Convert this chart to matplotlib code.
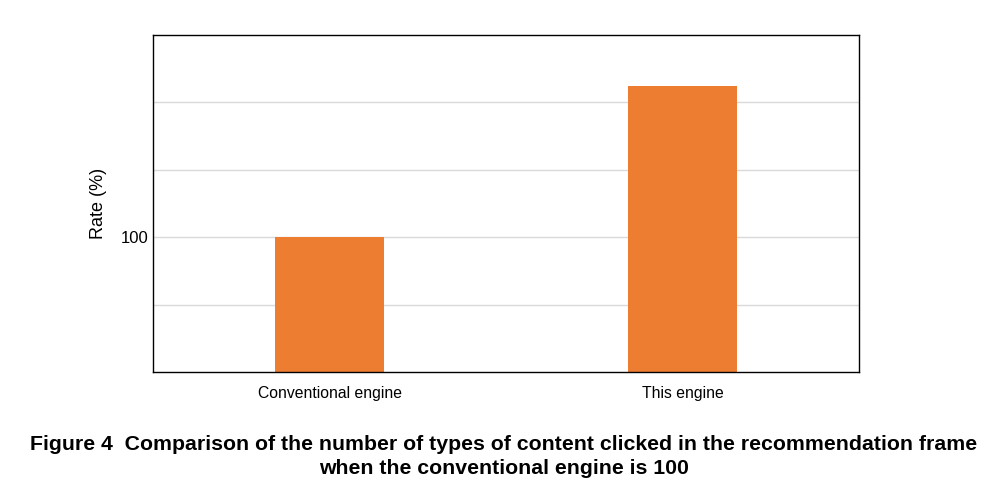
import matplotlib.pyplot as plt

plt.rcParams['font.family'] = ['Liberation Sans', 'DejaVu Sans']

engines = ['Conventional engine', 'This engine']
rates = [100, 156]
grid_levels = [75, 100, 125, 150]
y_ticks = [100]

fig = plt.figure(figsize=(10.08, 5.0), dpi=100)
ax = fig.add_axes([153 / 1008, 1 - 372 / 500, 706 / 1008, 337 / 500])

ax.bar(range(len(engines)), rates, width=0.31, color='#ED7D31', zorder=2)
for g in grid_levels:
    ax.axhline(g, color='#d9d9d9', linewidth=1, zorder=1)

ax.set_xlim(-0.5, 1.5)
ax.set_ylim(50, 175)
ax.set_xticks(range(len(engines)))
ax.set_xticklabels(engines, fontsize=11.3)
ax.set_yticks(y_ticks)
ax.set_yticklabels([str(t) for t in y_ticks], fontsize=12)
ax.tick_params(axis='x', length=0, pad=10)
ax.tick_params(axis='y', length=0, pad=3)
ax.set_ylabel('Rate (%)', fontsize=13, labelpad=10)
for s in ax.spines.values():
    s.set_linewidth(1.0)
    s.set_color('black')

fig.text(0.5, 1 - 445 / 500,
         'Figure 4  Comparison of the number of types of content clicked in the recommendation frame',
         ha='center', va='center', fontsize=15.3, fontweight='bold')
fig.text(0.5, 1 - 469 / 500, 'when the conventional engine is 100',
         ha='center', va='center', fontsize=15.3, fontweight='bold')

fig.savefig('out.png', dpi=100)
